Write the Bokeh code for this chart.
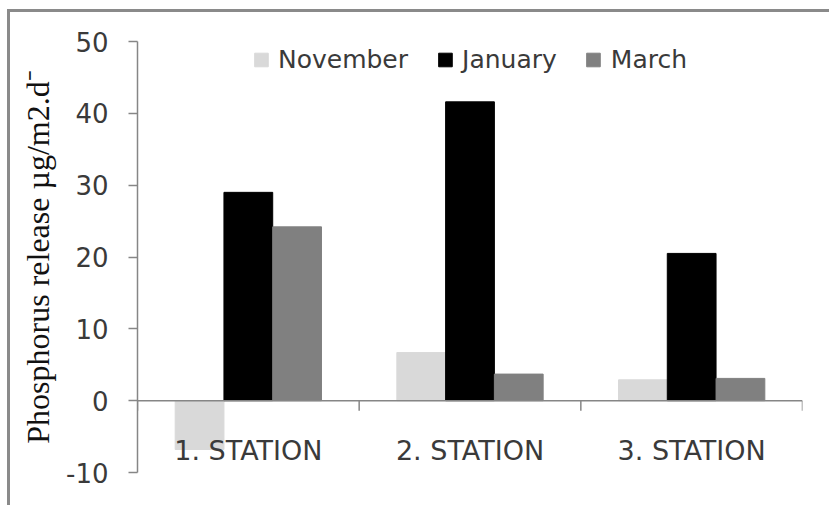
from bokeh.plotting import figure
from bokeh.models import ColumnDataSource, Range1d, FixedTicker, Legend, LegendItem, Span
from bokeh.core.properties import value
from bokeh.transform import dodge
from bokeh.embed import file_html
from bokeh.resources import INLINE

stations = ["1. STATION", "2. STATION", "3. STATION"]
november = [-6.8, 6.7, 2.9]
january = [29.0, 41.6, 20.5]
march = [24.2, 3.7, 3.1]
y_ticks = [-10, 0, 10, 20, 30, 40, 50]
y_tick_labels = ["-10", "0", "10", "20", "30", "40", "50"]
series_names = ["November", "January", "March"]
series_colors = ["#d9d9d9", "#000000", "#808080"]

x = [i + 0.5 for i in range(len(stations))]
src = ColumnDataSource(dict(x=x, station=stations, nov=november, jan=january,
                            mar=march, zero=[0] * len(stations)))
bounds = list(range(len(stations) + 1))
bsrc = ColumnDataSource(dict(b=bounds, y0=[0] * len(bounds), y1=[-1.4] * len(bounds)))

SANS = "DejaVu Sans"
TXT = "#3a3a3a"
AX = "#868686"

p = figure(width=822, height=496, x_range=Range1d(0, 3), y_range=Range1d(-10, 50),
           output_backend="svg", toolbar_location=None,
           min_border_left=127, min_border_top=29, min_border_bottom=36, min_border_right=30)
p.styles = {"border-top": "3px solid #8a8a8a", "border-left": "3px solid #8a8a8a",
            "margin-left": "7px", "margin-top": "9px"}
p.outline_line_color = None
p.xgrid.visible = False
p.ygrid.visible = False
p.xaxis.visible = False

bar_w = 0.22
renderers = []
for col, off, color in zip(["nov", "jan", "mar"], [-0.22, 0.0, 0.22], series_colors):
    r = p.vbar(x=dodge("x", off, range=p.x_range), top=col, bottom=0, width=bar_w,
               source=src, fill_color=color, line_color=color)
    renderers.append(r)

p.add_layout(Span(location=0, dimension="width", line_color=AX, line_width=1.5))
p.segment(x0="b", y0="y0", x1="b", y1="y1", source=bsrc, line_color=AX, line_width=1.5)

p.text(x="x", y="zero", text="station", source=src, y_offset=50, text_align="center",
       text_baseline="middle", text_font=value(SANS), text_font_size="27px", text_color=TXT)

yax = p.yaxis[0]
yax.ticker = FixedTicker(ticks=y_ticks)
yax.major_label_overrides = {t: s for t, s in zip(y_ticks, y_tick_labels)}
yax.major_tick_out = 9
yax.major_tick_in = 0
yax.minor_tick_line_color = None
yax.axis_line_color = AX
yax.axis_line_width = 1.5
yax.major_tick_line_color = AX
yax.major_tick_line_width = 1.5
yax.major_label_text_font = SANS
yax.major_label_text_font_size = "26px"
yax.major_label_text_color = TXT
yax.major_label_standoff = 20
yax.axis_label = "Phosphorus release µg/m2.d⁻"
yax.axis_label_text_font = "Liberation Serif"
yax.axis_label_text_font_size = "32px"
yax.axis_label_text_font_style = "normal"
yax.axis_label_text_color = "#111111"
yax.axis_label_standoff = 7

legend = Legend(items=[LegendItem(label=n, renderers=[r]) for n, r in zip(series_names, renderers)],
                location="top_center", orientation="horizontal", margin=4, padding=0,
                spacing=28, glyph_width=17, glyph_height=17, label_standoff=9,
                label_text_font=SANS, label_text_font_size="25px", label_text_color=TXT,
                border_line_color=None, background_fill_alpha=0)
p.add_layout(legend)

open("out.html", "w").write(file_html(p, INLINE))
